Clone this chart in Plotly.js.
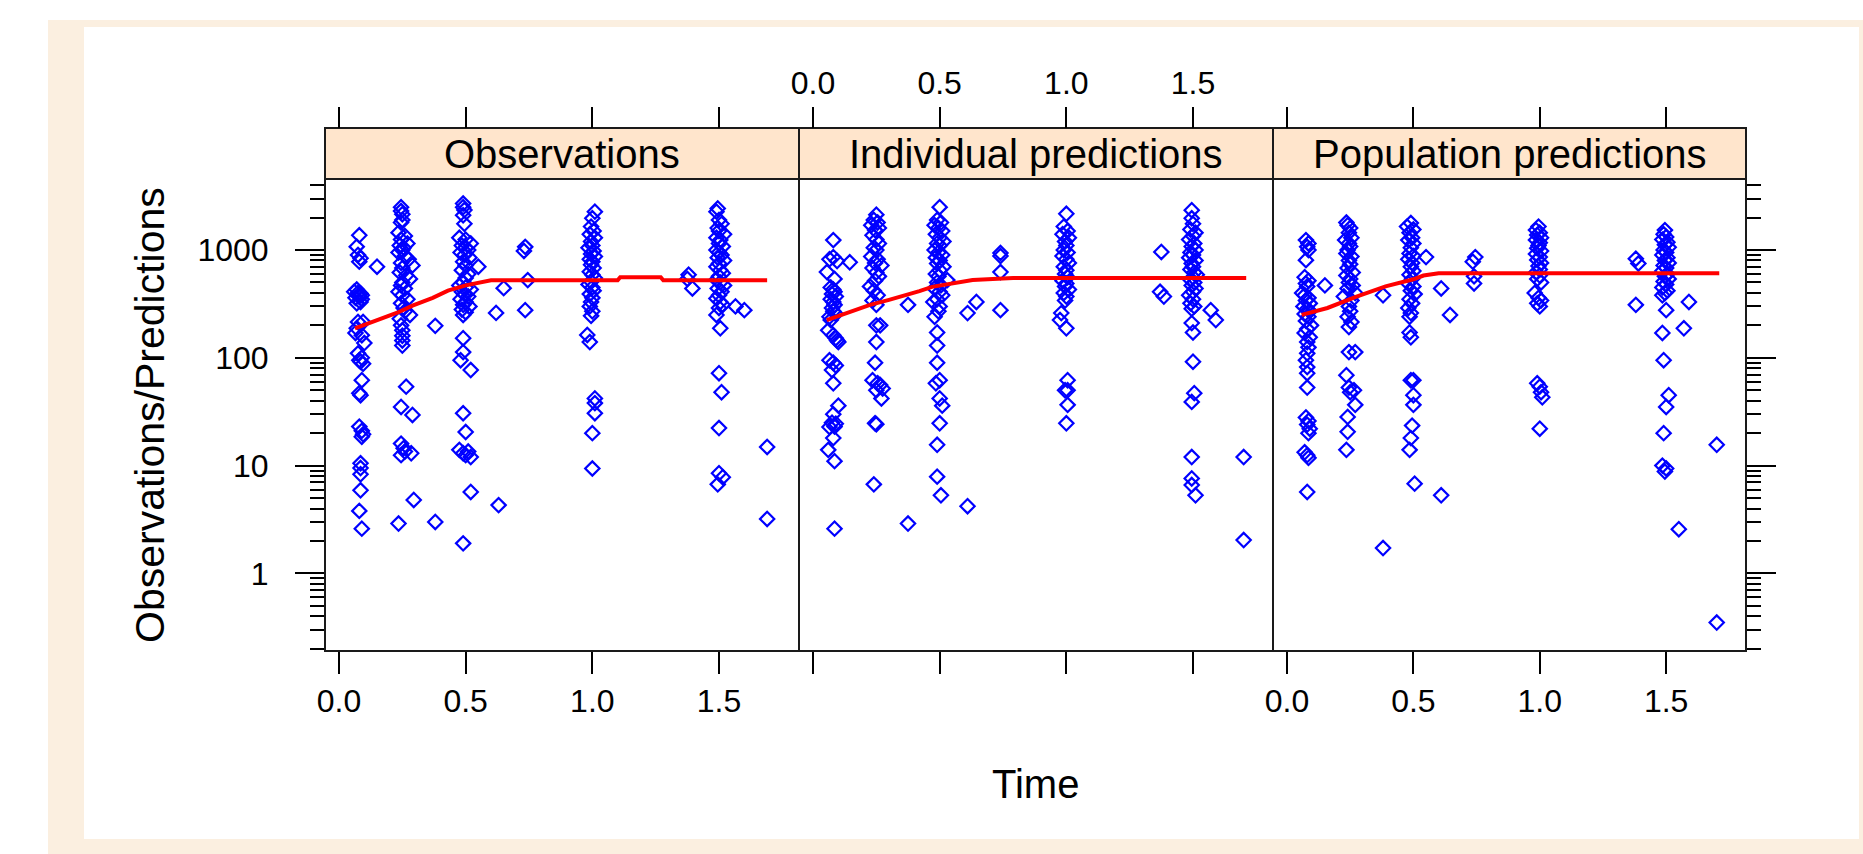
<!DOCTYPE html>
<html>
<head>
<meta charset="utf-8">
<script src="https://cdn.plot.ly/plotly-3.0.1.min.js"></script>
<style>
  html, body { margin: 0; padding: 0; background: #ffffff; }
  #chart { width: 1863px; height: 854px; }
</style>
</head>
<body>
<div id="chart"></div>
<script>
// ---------------- data ----------------
const panelNames = ['Observations', 'Individual predictions', 'Population predictions'];
const timeTicks = [0, 0.5, 1, 1.5];
const timeTickText = ['0.0', '0.5', '1.0', '1.5'];
const concTicks = [1, 10, 100, 1000];
const concTickText = ['1', '10', '100', '1000'];
const concMinorTicks = [0.2,0.3,0.4,0.5,0.6,0.7,0.8,0.9, 2,3,4,5,6,7,8,9, 20,30,40,50,60,70,80,90,
                        200,300,400,500,600,700,800,900, 2000,3000,4000];

// Observations
const obsTime = [
  0.08,0.07,0.075,0.085,0.08, 0.07,0.06,0.075,0.085,0.09, 0.08,0.065,0.09,0.085,0.07, 0.075,0.095,0.07,0.065,0.09, 0.1,0.075,0.09,0.08,0.085, 0.095,0.09,0.08,0.085,0.08, 0.09,0.095,0.09,0.085,0.085, 0.085,0.085,0.08,0.09,
  0.15,
  0.245,0.245,0.25,0.25,0.245, 0.235,0.26,0.245,0.27,0.24, 0.255,0.25,0.235,0.26,0.275, 0.245,0.29,0.25,0.24,0.265, 0.28,0.25,0.245,0.26,0.235, 0.25,0.27,0.245,0.255,0.26, 0.28,0.24,0.245,0.25,0.25, 0.25,0.25,0.265,0.245,0.29, 0.245,0.255,0.26,0.285,0.245, 0.295,0.235,
  0.38,0.38,
  0.49,0.49,0.495,0.49,0.495, 0.475,0.5,0.52,0.485,0.5, 0.51,0.48,0.495,0.515,0.49, 0.55,0.5,0.485,0.51,0.5, 0.49,0.475,0.5,0.52,0.485, 0.495,0.51,0.48,0.5,0.49, 0.515,0.485,0.5,0.49,0.49, 0.49,0.48,0.52,0.49,0.5, 0.475,0.49,0.5,0.51,0.52, 0.52,0.49,
  0.62,0.65,0.63,0.735,0.73,0.745,0.735,
  1.01,1.0,0.995,1.005,0.99, 1.01,0.995,1.0,0.985,1.005, 0.995,1.01,0.99,1.0,0.995, 1.005,0.99,1.0,1.01,0.995, 0.985,1.0,1.005,0.99,1.0, 0.995,0.99,1.0,0.995,0.98, 0.99,1.01,1.01,1.01,1.0, 1.0,
  1.38,1.375,1.395,
  1.495,1.49,1.5,1.51,1.495, 1.5,1.52,1.49,1.505,1.5, 1.515,1.49,1.5,1.51,1.495, 1.52,1.5,1.49,1.505,1.515, 1.5,1.49,1.505,1.52,1.495, 1.51,1.5,1.49,1.505,1.515, 1.5,1.49,1.505,1.5,1.51, 1.5,1.5,1.515,1.495,
  1.565,1.6,1.69,1.69
];
const obsValue = [
  1370,1075,900,840,780, 430,410,400,395,380, 370,360,350,330,320, 215,215,188,170,162, 137,110,100,95,92, 88,62,47,45,23, 21,19.5,18.5,10.5,9.5, 8.3,5.9,3.8,2.6,
  700,
  2500,2300,2150,1900,1800, 1450,1350,1250,1150,1100, 1050,1000,950,880,820, 760,720,680,620,580, 540,500,470,440,410, 380,350,320,290,270, 250,230,200,180,160, 145,130,54,35,29.5, 16,14.5,13.5,13,12.5, 4.8,2.9,
  198,3.0,
  2700,2500,2350,2100,1750, 1300,1250,1150,1100,1050, 1000,950,900,850,780, 700,720,650,600,550, 500,470,450,430,410, 390,370,350,330,310, 300,280,265,250,152, 113,95,77,30.6,20.5, 14,13,12.5,13.5,12, 5.7,1.9,
  261,443,4.3,1070,980,526,277,
  2270,1970,1650,1500,1400, 1300,1200,1100,1050,980, 920,870,820,780,730, 680,630,590,550,510, 480,450,420,390,360, 330,300,270,245,163, 140,42,38,30.6,20, 9.4,
  590,540,440,
  2430,2270,1900,1750,1600, 1500,1400,1300,1240,1150, 1080,1000,950,900,850, 800,750,700,650,610, 570,530,500,470,440, 410,380,355,330,310, 290,250,188,72,48, 22.3,8.5,7.8,6.7,
  300,277,14.9,3.2
];

// Individual predictions
const iprTime = [
  0.08,0.08,0.095,0.065,0.145, 0.055,0.085,0.07,0.08,0.085, 0.075,0.09,0.07,0.08,0.085, 0.075,0.08,0.09,0.065,0.07, 0.06,0.08,0.09,0.095,0.1, 0.065,0.08,0.09,0.075,0.08, 0.1,0.08,0.075,0.09,0.085, 0.065,0.08,0.06,0.085,0.085,
  0.25,0.24,0.255,0.23,0.26, 0.245,0.235,0.25,0.26,0.24, 0.25,0.23,0.255,0.245,0.27, 0.235,0.25,0.26,0.245,0.225, 0.24,0.255,0.235,0.25,0.25, 0.265,0.25,0.245,0.235,0.255, 0.265,0.275,0.25,0.27,0.245, 0.25,0.24,
  0.375,0.375,
  0.5,0.49,0.505,0.48,0.495, 0.51,0.485,0.5,0.515,0.49, 0.5,0.48,0.495,0.51,0.485, 0.5,0.49,0.515,0.5,0.485, 0.495,0.53,0.49,0.505,0.48, 0.5,0.51,0.49,0.475,0.5, 0.495,0.48,0.49,0.49,0.49, 0.5,0.485,0.5,0.51,0.5, 0.49,0.49,0.505,
  0.61,0.645,0.61,0.74,0.74,0.74,0.74,
  1.0,0.99,1.005,0.985,1.01, 0.995,1.0,0.99,1.005,0.985, 1.0,1.01,0.99,1.0,0.995, 1.005,0.985,1.0,0.995,1.01, 0.99,1.0,0.995,0.98,0.975, 1.0,1.005,0.995,1.005,1.005, 1.0,
  1.375,1.37,1.385,
  1.495,1.495,1.5,1.49,1.51, 1.5,1.485,1.505,1.495,1.51, 1.49,1.5,1.485,1.51,1.495, 1.5,1.49,1.505,1.515,1.5, 1.49,1.505,1.495,1.51,1.5, 1.485,1.5,1.49,1.505,1.495, 1.495,1.5,1.5,1.505,1.495, 1.495,1.495,1.495,1.51,
  1.57,1.59,1.70,1.70
];
const iprValue = [
  1236,860,790,820,770, 625,540,450,430,410, 390,370,350,330,310, 290,270,255,240,224, 180,162,152,145,140, 95,90,85,77,58, 36,30,25,24.5,23, 22.8,18,14,11,2.6,
  2130,1900,1800,1700,1600, 1530,1370,1250,1150,1050, 1000,870,820,760,720, 680,620,570,520,460, 420,380,340,310,200, 200,140,90,62,58, 56,52,50,42,24.7, 24.2,6.7,
  310,2.9,
  2500,1900,1800,1700,1600, 1500,1400,1300,1200,1150, 1100,1000,950,900,850, 800,750,700,650,600, 570,526,500,470,440, 410,380,350,330,300, 270,240,172,130,90, 62,58,42,36,24.7, 15.6,7.9,5.3,
  260,330,4.2,940,880,625,277,
  2170,1650,1500,1400,1300, 1200,1100,1000,950,880, 820,760,700,650,600, 560,520,490,460,430, 400,370,340,260,224, 188,62,50,50,36.6, 24.7,
  960,410,370,
  2340,1970,1750,1550,1450, 1350,1250,1150,1080,1000, 950,900,850,800,750, 700,660,620,590,560, 530,500,470,440,410, 380,350,320,300,285, 210,172,92,47,39, 12,7.6,6.6,5.3,
  277,224,12,2.04
];

// Population predictions
const popTime = [
  0.075,0.085,0.08,0.085,0.075, 0.07,0.085,0.075,0.08,0.15, 0.06,0.07,0.085,0.075,0.09, 0.065,0.08,0.09,0.07,0.085, 0.075,0.095,0.08,0.07,0.09, 0.08,0.085,0.08,0.075,0.08, 0.08,0.08,0.075,0.085,0.08, 0.09,0.085,0.07,0.08,0.085, 0.08,
  0.235,0.24,0.25,0.245,0.255, 0.23,0.245,0.25,0.24,0.235, 0.255,0.245,0.25,0.24,0.26, 0.235,0.25,0.245,0.26,0.24, 0.27,0.225,0.255,0.245,0.25, 0.24,0.255,0.245,0.245,0.27, 0.235,0.245,0.265,0.25,0.27, 0.24,0.24,0.235,
  0.38,0.38,
  0.49,0.475,0.5,0.485,0.495, 0.48,0.5,0.49,0.485,0.55, 0.5,0.48,0.495,0.49,0.5, 0.485,0.495,0.48,0.5,0.49, 0.505,0.485,0.495,0.48,0.49, 0.485,0.485,0.49,0.49,0.5, 0.5,0.5,0.495,0.49,0.485, 0.505,
  0.61,0.645,0.61,0.745,0.735,0.74,0.74,
  0.995,0.985,1.0,0.99,1.005, 0.985,1.0,0.995,0.99,1.005, 0.985,1.0,0.99,1.005,0.995, 1.0,0.985,1.0,0.99,1.005, 0.98,0.995,1.005,0.99,1.0, 0.99,1.0,1.005,1.01,1.0,
  1.38,1.39,1.38,
  1.495,1.49,1.5,1.485,1.505, 1.495,1.51,1.49,1.5,1.485, 1.505,1.495,1.51,1.49,1.5, 1.485,1.505,1.495,1.51,1.49, 1.5,1.485,1.505,1.495,1.485, 1.5,1.485,1.49,1.51,1.5, 1.49,1.485,1.5,1.495,1.55,
  1.59,1.57,1.70,1.70
];
const popValue = [
  1236,1150,1070,1000,806, 560,520,490,460,470, 400,380,360,340,320, 300,285,270,255,240, 220,200,185,170,155, 140,125,110,95,82, 72,53,28,26,24, 22,20,13.3,12.5,11.8, 5.7,
  1800,1700,1600,1450,1300, 1236,1150,1080,1000,930, 870,800,740,680,620, 580,540,500,470,440, 400,370,340,300,270, 240,215,193,113,113, 69,53,50,48,36.6, 28.3,20.6,14,
  380,1.72,
  1780,1650,1550,1450,1300, 1236,1150,1050,930,860, 880,820,760,700,640, 590,540,490,460,420, 390,350,320,290,260, 240,172,155,62,62, 45,36.6,23.5,18,14, 6.8,
  440,250,5.3,860,780,570,490,
  1650,1530,1450,1380,1300, 1240,1170,1100,1040,980, 920,860,810,760,710, 660,620,580,540,500, 400,360,340,320,300, 58,54,48,43,22,
  830,750,310,
  1530,1400,1320,1250,1180, 1120,1060,1000,950,900, 850,800,760,720,680, 640,600,570,540,510, 480,450,420,400,380, 277,170,95,45,35, 20,10,9.4,8.8,2.57,
  330,188,15.6,0.35
];

// Smooth (red) lines
const obsLineTime  = [0.063,0.15,0.23,0.29,0.37,0.43,0.5,0.6,1.10,1.11,1.27,1.28,1.69];
const obsLineValue = [188,225,262,305,360,420,470,525,525,560,560,525,525];
const iprLineTime  = [0.054,0.1,0.15,0.225,0.3,0.37,0.42,0.47,0.55,0.63,0.79,1.71];
const iprLineValue = [224,245,268,310,345,380,415,455,490,526,550,550];
const popLineTime  = [0.058,0.16,0.275,0.39,0.5,0.54,0.6,1.71];
const popLineValue = [250,290,370,460,535,580,610,610];

// ---------------- layout helpers ----------------
const W = 1863, H = 854;
const fx = p => p / W;
const fy = p => 1 - p / H;
const panelX = [[325, 799], [799, 1273], [1273, 1746]];
const panelTop = 179, panelBottom = 651, stripTop = 128;
const FONT = 'Liberation Sans, Arial, Helvetica, sans-serif';
const tickFontSize = 32;

const series = [
  {t: obsTime, v: obsValue, lt: obsLineTime, lv: obsLineValue},
  {t: iprTime, v: iprValue, lt: iprLineTime, lv: iprLineValue},
  {t: popTime, v: popValue, lt: popLineTime, lv: popLineValue}
];

const traces = [];
series.forEach((s, i) => {
  const xa = i === 0 ? 'x' : 'x' + (i + 1);
  const ya = i === 0 ? 'y' : 'y' + (i + 1);
  traces.push({
    type: 'scatter', mode: 'markers', x: s.t, y: s.v, xaxis: xa, yaxis: ya,
    marker: {symbol: 'diamond-open', size: 11, color: '#0000FF', line: {width: 2.2, color: '#0000FF'}},
    hoverinfo: 'x+y', showlegend: false, cliponaxis: false
  });
  traces.push({
    type: 'scatter', mode: 'lines', x: s.lt, y: s.lv, xaxis: xa, yaxis: ya,
    line: {color: '#FF0000', width: 4}, hoverinfo: 'skip', showlegend: false
  });
});
// helper traces so the top tick axes exist
['x4', 'x5', 'x6'].forEach((xa, i) => {
  traces.push({type: 'scatter', mode: 'markers', x: [], y: [], xaxis: xa,
               yaxis: i === 0 ? 'y' : 'y' + (i + 1), hoverinfo: 'skip', showlegend: false});
});

const xRange = [-0.0553, 1.8158];
const yRange = [-0.72, 3.659];

function xAxis(i, extra) {
  return Object.assign({
    range: xRange, domain: [fx(panelX[i][0]), fx(panelX[i][1])],
    tickmode: 'array', tickvals: timeTicks, ticktext: timeTickText,
    ticks: 'outside', ticklen: 22, tickwidth: 2, tickcolor: '#000',
    showgrid: false, zeroline: false, showline: false, fixedrange: true,
    tickfont: {family: FONT, size: tickFontSize, color: '#000'}
  }, extra);
}
function yAxis(i, extra) {
  return Object.assign({
    type: 'log', range: yRange, domain: [fy(panelBottom), fy(panelTop)],
    tickmode: 'array', tickvals: concTicks, ticktext: concTickText,
    ticks: 'outside', ticklen: 29, tickwidth: 2, tickcolor: '#000',
    minor: {tickmode: 'array', tickvals: concMinorTicks, ticks: 'outside', ticklen: 14, tickwidth: 2, tickcolor: '#000'},
    showgrid: false, zeroline: false, showline: false, fixedrange: true,
    ticklabelstandoff: 20,
    tickfont: {family: FONT, size: tickFontSize, color: '#000'}
  }, extra);
}

const shapes = [
  // beige frame and white inner area
  {type: 'rect', xref: 'paper', yref: 'paper', x0: fx(48), x1: 1, y0: 0, y1: fy(20),
   fillcolor: '#FBEFE0', line: {width: 0}, layer: 'below'},
  {type: 'rect', xref: 'paper', yref: 'paper', x0: fx(84), x1: fx(1859), y0: fy(839), y1: fy(27),
   fillcolor: '#FFFFFF', line: {width: 0}, layer: 'below'}
];
panelX.forEach(p => {
  shapes.push({type: 'rect', xref: 'paper', yref: 'paper', x0: fx(p[0]), x1: fx(p[1]),
               y0: fy(stripTop), y1: fy(panelTop), fillcolor: '#FFE5CC',
               line: {color: '#1a1a1a', width: 2}, layer: 'below'});
  shapes.push({type: 'rect', xref: 'paper', yref: 'paper', x0: fx(p[0]), x1: fx(p[1]),
               y0: fy(panelBottom), y1: fy(panelTop), fillcolor: 'rgba(0,0,0,0)',
               line: {color: '#1a1a1a', width: 2}, layer: 'above'});
});

const annotations = panelNames.map((name, i) => ({
  xref: 'paper', yref: 'paper', x: fx((panelX[i][0] + panelX[i][1]) / 2), y: fy(154),
  xanchor: 'center', yanchor: 'middle', showarrow: false, text: name,
  font: {family: FONT, size: 40, color: '#000'}
}));
annotations.push({
  xref: 'paper', yref: 'paper', x: fx(1035.5), y: fy(784), xanchor: 'center', yanchor: 'middle',
  showarrow: false, text: 'Time', font: {family: FONT, size: 40, color: '#000'}
});
annotations.push({
  xref: 'paper', yref: 'paper', x: fx(150), y: fy(415), xanchor: 'center', yanchor: 'middle',
  showarrow: false, text: 'Observations/Predictions', textangle: -90,
  font: {family: FONT, size: 41, color: '#000'}
});

const layout = {
  width: W, height: H,
  margin: {l: 0, r: 0, t: 0, b: 0, pad: 0},
  paper_bgcolor: '#FFFFFF', plot_bgcolor: '#FFFFFF',
  showlegend: false,
  font: {family: FONT, size: tickFontSize, color: '#000'},
  xaxis: xAxis(0, {anchor: 'y'}),
  xaxis2: xAxis(1, {anchor: 'y2', showticklabels: false}),
  xaxis3: xAxis(2, {anchor: 'y3'}),
  xaxis4: xAxis(0, {overlaying: 'x', side: 'top', anchor: 'free', position: fy(stripTop), ticklen: 21, showticklabels: false}),
  xaxis5: xAxis(1, {overlaying: 'x2', side: 'top', anchor: 'free', position: fy(stripTop), ticklen: 21, showticklabels: true}),
  xaxis6: xAxis(2, {overlaying: 'x3', side: 'top', anchor: 'free', position: fy(stripTop), ticklen: 21, showticklabels: false}),
  yaxis: yAxis(0, {anchor: 'x'}),
  yaxis2: yAxis(1, {anchor: 'x2', ticks: '', showticklabels: false, minor: {ticks: ''}}),
  yaxis3: yAxis(2, {anchor: 'x3', side: 'right', showticklabels: false}),
  shapes: shapes,
  annotations: annotations
};

Plotly.newPlot('chart', traces, layout, {displayModeBar: false, responsive: false});
</script>
</body>
</html>
